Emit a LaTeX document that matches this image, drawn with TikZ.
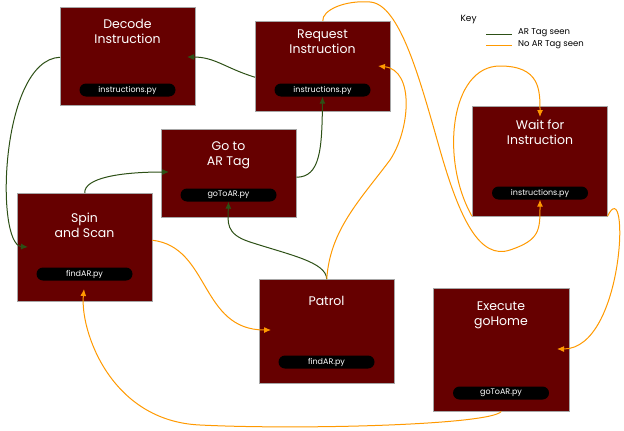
\documentclass[tikz,border=0pt]{standalone}
\usepackage{fontspec}
\setmainfont{Poppins}
\usetikzlibrary{arrows.meta}
\definecolor{boxred}{HTML}{660000}
\definecolor{grn}{HTML}{2D5016}
\definecolor{org}{HTML}{FF9900}
\begin{document}
\begin{tikzpicture}[x=1pt,y=-1pt,
 box/.style={draw=gray!70!white,line width=0.5pt,fill=boxred,minimum width=135pt,anchor=north west,inner sep=0pt},
 ttl/.style={text=white,font=\fontsize{12.5}{15}\selectfont,align=center,anchor=north},
 pill/.style={fill=black,rounded corners=6.5pt,minimum width=96pt,minimum height=13pt,inner sep=0pt,text=white,font=\fontsize{8}{9}\selectfont},
 ga/.style={draw=grn,line width=1pt,-{Latex[length=7pt,width=6pt]}},
 oa/.style={draw=org,line width=1pt,-{Latex[length=7pt,width=6pt]}}]
\useasboundingbox (0,0) rectangle (624,431);
% boxes
\node[box,minimum height=98pt] (dec) at (60,7) {};
\node[box,minimum height=90pt] (req) at (255,21) {};
\node[box,minimum height=88pt] (go) at (161,129) {};
\node[box,minimum height=108pt] (spin) at (17,193) {};
\node[box,minimum height=104pt] (pat) at (259,279) {};
\node[box,minimum height=110pt] (wait) at (472,106) {};
\node[box,minimum height=123pt,minimum width=136pt] (exe) at (433,288) {};
% titles
\node[ttl] (decT) at (127.5,16) {Decode\\Instruction};
\node[ttl] (reqT) at (322.5,26) {Request\\Instruction};
\node[ttl] (goT) at (228.5,138) {Go to\\AR Tag};
\node[ttl] (spinT) at (84.5,209) {Spin\\and Scan};
\node[ttl] (patT) at (326.5,293) {Patrol};
\node[ttl] (waitT) at (540,116) {Wait for\\Instruction};
\node[ttl] (exeT) at (501,298) {Execute\\goHome};
% pills
\node[pill] (decP) at (127.5,90) {instructions.py};
\node[pill] (reqP) at (322.5,90) {instructions.py};
\node[pill] (goP) at (228.5,195) {goToAR.py};
\node[pill] (spinP) at (84.5,274) {findAR.py};
\node[pill] (patP) at (326.5,362) {findAR.py};
\node[pill] (waitP) at (540,193) {instructions.py};
\node[pill] (exeP) at (501,393) {goToAR.py};
% anchor coordinates
\coordinate (decIn) at (187,57);
\coordinate (spinIn) at (28,247);
\coordinate (goIn) at (169,172);
\coordinate (reqIn) at (378,66);
\coordinate (exeIn) at (557,349);
\coordinate (spinBot) at (84,289);
\coordinate (patIn) at (271,330);
% green
\draw[ga] (req.west) ++(0,11) .. controls (225,68) and (215,57) .. (decIn);
\draw[ga] (dec.west) ++(0,1) .. controls (0,60) and (-5,245) .. (spinIn);
\draw[ga] (spin.north) .. controls (84,178) and (120,172) .. (goIn);
\draw[ga] (go.east) ++(0,4) .. controls (320,177) and (322,150) .. (reqP.south);
\draw[ga] (pat.north) .. controls (326,262) and (290,255) .. (250,242) .. controls (225,234) and (228,222) .. (goP.south);
% orange
\draw[oa] (pat.north) .. controls (330,230) and (360,200) .. (390,160) .. controls (410,130) and (415,70) .. (reqIn);
\draw[oa] (req.north) .. controls (322,10) and (345,0) .. (370,2) .. controls (400,4) and (420,80) .. (440,150) .. controls (460,220) and (480,260) .. (510,250) .. controls (540,240) and (540,230) .. (waitP.south);
\draw[oa] (wait.west) ++(0,55) .. controls (440,160) and (450,66) .. (500,66) .. controls (540,66) and (540,90) .. (540,117);
\draw[oa] (wait.east) ++(0,55) .. controls (630,170) and (625,349) .. (exeIn);
\draw[oa] (exe.south) .. controls (490,425) and (300,430) .. (200,425) .. controls (110,421) and (80,330) .. (spinBot);
\draw[oa] (spin.east) ++(0,-7) .. controls (210,247) and (200,330) .. (patIn);
% key
\node[font=\fontsize{9}{10}\selectfont,anchor=west] (key) at (457,20) {Key};
\coordinate (k1a) at (486,34); \coordinate (k1b) at (512,34);
\coordinate (k2a) at (486,45); \coordinate (k2b) at (512,45);
\draw[grn,line width=1pt] (k1a) -- (k1b);
\draw[org,line width=1pt] (k2a) -- (k2b);
\node[font=\fontsize{8.5}{10}\selectfont,anchor=west,inner sep=0pt] (kt1) at (518,33) {AR Tag seen};
\node[font=\fontsize{8.5}{10}\selectfont,anchor=west,inner sep=0pt] (kt2) at (518,45) {No AR Tag seen};
\end{tikzpicture}
\end{document}
